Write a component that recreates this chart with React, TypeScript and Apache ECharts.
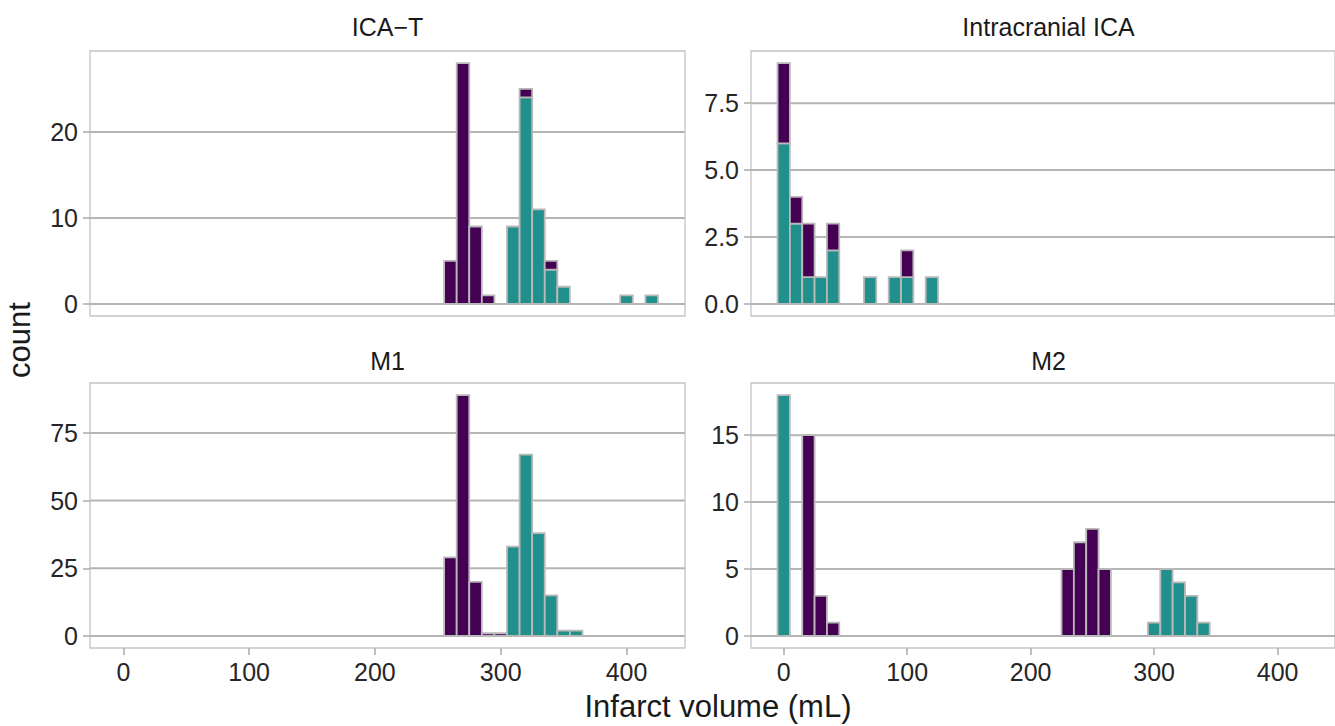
import React, { useEffect, useRef } from "react";
import * as echarts from "echarts";

const panelTitles = ["ICA\u2212T", "Intracranial ICA", "M1", "M2"];

const icaTBins = [260, 270, 280, 290, 310, 320, 330, 340, 350, 400, 420];
const icaTPurple = [5, 28, 9, 1, 0, 1, 0, 1, 0, 0, 0];
const icaTTeal = [0, 0, 0, 0, 9, 24, 11, 4, 2, 1, 1];

const intraBins = [0, 10, 20, 30, 40, 70, 90, 100, 120];
const intraPurple = [3, 1, 2, 0, 1, 0, 0, 1, 0];
const intraTeal = [6, 3, 1, 1, 2, 1, 1, 1, 1];

const m1Bins = [260, 270, 280, 290, 300, 310, 320, 330, 340, 350, 360];
const m1Purple = [29, 89, 20, 1, 1, 0, 0, 0, 0, 0, 0];
const m1Teal = [0, 0, 0, 0, 0, 33, 67, 38, 15, 2, 2];

const m2Bins = [0, 20, 30, 40, 230, 240, 250, 260, 300, 310, 320, 330, 340];
const m2Purple = [0, 15, 3, 1, 5, 7, 8, 5, 0, 0, 0, 0, 0];
const m2Teal = [18, 0, 0, 0, 0, 0, 0, 0, 1, 5, 4, 3, 1];

const yTicks = [
  [0, 10, 20],
  [0, 2.5, 5, 7.5],
  [0, 25, 50, 75],
  [0, 5, 10, 15],
];
const yDecimals = [0, 1, 0, 0];
const xTicks = [0, 100, 200, 300, 400];
const binWidth = 10;
const xMin = -26.5;
const xMax = 446.5;

const PURPLE = "#440154";
const TEAL = "#21908c";
const BORDER = "#b9b9b9";
const GRID = "#b5b5b5";
const FONT = "'Liberation Sans', Arial, Helvetica, sans-serif";
const TICK_FONT = 25;
const STRIP_FONT = 25;
const TITLE_FONT = 31;

const panels = [
  { bins: icaTBins, purple: icaTPurple, teal: icaTTeal },
  { bins: intraBins, purple: intraPurple, teal: intraTeal },
  { bins: m1Bins, purple: m1Purple, teal: m1Teal },
  { bins: m2Bins, purple: m2Purple, teal: m2Teal },
];

const gridPos = [
  { left: 90, top: 51, titleY: 27 },
  { left: 751, top: 51, titleY: 27 },
  { left: 90, top: 383, titleY: 361 },
  { left: 751, top: 383, titleY: 361 },
];
const GW = 595;
const GH = 265;

export default function App() {
  const ref = useRef<HTMLDivElement>(null);

  useEffect(() => {
    if (!ref.current) return;
    const chart = echarts.init(ref.current, null, { renderer: "svg" });

    const grids: any[] = [];
    const xAxes: any[] = [];
    const yAxes: any[] = [];
    const series: any[] = [];
    const graphics: any[] = [];

    panels.forEach((p, i) => {
      const g = gridPos[i];
      grids.push({
        left: g.left,
        top: g.top,
        width: GW,
        height: GH,
        show: true,
        borderColor: "#c4c4c4",
        borderWidth: 1.3,
        backgroundColor: "#ffffff",
        containLabel: false,
      });
      const isBottom = i >= 2;
      xAxes.push({
        type: "value",
        gridIndex: i,
        min: xMin,
        max: xMax,
        position: "bottom",
        axisLine: { show: false, onZero: false },
        splitLine: { show: false },
        axisTick: {
          show: isBottom,
          length: 7,
          lineStyle: { color: "#b0b0b0", width: 1.6 },
          customValues: xTicks,
        },
        axisLabel: {
          show: isBottom,
          customValues: xTicks,
          fontSize: TICK_FONT,
          color: "#262626",
          fontFamily: FONT,
          margin: 11,
        },
      });
      const totals = p.bins.map((_, k) => p.purple[k] + p.teal[k]);
      const maxTotal = Math.max(...totals);
      yAxes.push({
        type: "value",
        gridIndex: i,
        min: -0.05 * maxTotal,
        max: 1.05 * maxTotal,
        position: "left",
        axisLine: { show: false, onZero: false },
        axisTick: {
          show: true,
          length: 7,
          lineStyle: { color: "#b0b0b0", width: 1.6 },
          customValues: yTicks[i],
        },
        axisLabel: {
          customValues: yTicks[i],
          fontSize: TICK_FONT,
          color: "#262626",
          fontFamily: FONT,
          margin: 12,
          formatter: (v: number) => v.toFixed(yDecimals[i]),
        },
        splitLine: { show: false },
      });

      // horizontal grid lines under the bars
      series.push({
        type: "custom",
        xAxisIndex: i,
        yAxisIndex: i,
        z: 1,
        silent: true,
        data: yTicks[i].map((v) => [v]),
        encode: { y: 0 },
        renderItem: (params: any, api: any) => {
          const y = api.value(0);
          const a = api.coord([xMin, y]);
          const b = api.coord([xMax, y]);
          return {
            type: "line",
            shape: { x1: a[0], y1: a[1], x2: b[0], y2: b[1] },
            style: { stroke: GRID, lineWidth: 2 },
          };
        },
      });

      const tealData = p.bins
        .map((x, k) => [x, 0, p.teal[k]])
        .filter((d) => d[2] > 0);
      const purpleData = p.bins
        .map((x, k) => [x, p.teal[k], p.teal[k] + p.purple[k]])
        .filter((d) => d[2] > d[1]);

      const mk = (color: string) => (params: any, api: any) => {
        const x = api.value(0);
        const y0 = api.value(1);
        const y1 = api.value(2);
        const p0 = api.coord([x - binWidth / 2, y1]);
        const p1 = api.coord([x + binWidth / 2, y0]);
        return {
          type: "rect",
          shape: {
            x: p0[0],
            y: p0[1],
            width: p1[0] - p0[0],
            height: p1[1] - p0[1],
          },
          style: { fill: color, stroke: BORDER, lineWidth: 1.8 },
        };
      };

      series.push({
        type: "custom",
        name: "teal",
        xAxisIndex: i,
        yAxisIndex: i,
        z: 3,
        data: tealData,
        encode: { x: 0, y: [1, 2] },
        renderItem: mk(TEAL),
      });
      series.push({
        type: "custom",
        name: "purple",
        xAxisIndex: i,
        yAxisIndex: i,
        z: 3,
        data: purpleData,
        encode: { x: 0, y: [1, 2] },
        renderItem: mk(PURPLE),
      });

      graphics.push({
        type: "text",
        x: g.left + GW / 2,
        y: g.titleY,
        style: {
          text: panelTitles[i],
          fontSize: STRIP_FONT,
          fontFamily: FONT,
          fill: "#1a1a1a",
          textAlign: "center",
          textVerticalAlign: "middle",
        },
      });
    });

    graphics.push({
      type: "text",
      x: 718,
      y: 706,
      style: {
        text: "Infarct volume (mL)",
        fontSize: TITLE_FONT,
        fontFamily: FONT,
        fill: "#1a1a1a",
        textAlign: "center",
        textVerticalAlign: "middle",
      },
    });
    graphics.push({
      type: "text",
      x: 19,
      y: 340,
      rotation: Math.PI / 2,
      style: {
        text: "count",
        fontSize: TITLE_FONT,
        fontFamily: FONT,
        fill: "#1a1a1a",
        textAlign: "center",
        textVerticalAlign: "middle",
      },
    });

    chart.setOption({
      animation: false,
      backgroundColor: "#ffffff",
      grid: grids,
      xAxis: xAxes,
      yAxis: yAxes,
      series,
      graphic: graphics,
    });

    return () => chart.dispose();
  }, []);

  return (
    <div
      ref={ref}
      style={{
        position: "absolute",
        left: 0,
        top: 0,
        width: 1335,
        height: 726,
        overflow: "hidden",
      }}
    />
  );
}
